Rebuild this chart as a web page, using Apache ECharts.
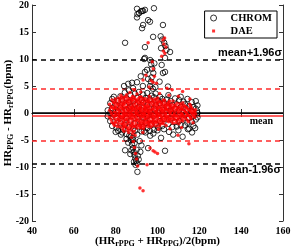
<!DOCTYPE html>
<html><head><meta charset="utf-8">
<script src="https://cdn.jsdelivr.net/npm/echarts@6/dist/echarts.min.js"></script>
<style>html,body{margin:0;padding:0;background:#fff}#c{width:291px;height:252px}</style>
</head><body><div id="c"></div>
<script>
const xTicks = [40, 60, 80, 100, 120, 140, 160];
const yTicks = [-20, -15, -10, -5, 0, 5, 10, 15, 20];
const seriesNames = ['CHROM', 'DAE'];
// [mean, mean+1.96σ, mean-1.96σ]
const chromLimits = [0.1, 9.85, -9.4];
const daeLimits = [-0.5, 4.4, -5.2];
const limitLabels = ['mean', 'mean+1.96σ', 'mean-1.96σ'];

// CHROM: columns [x, y1, y2, ...]
const chromCore = [
 [76.2,0.5,-0.6],[77.4,1.8,-1.5,0.0],[78.3,2.6,-2.4,0.9],[79.1,-0.3,3.0],[80.4,1.5,-2.8,-0.9],
 [81.2,2.2,0.3,-3.3],[82.3,-1.9,3.1,1.0],[83.1,2.5,-0.6,-3.6],[84.4,1.4,-2.2,3.8],[85.2,-1.0,0.6,-3.9,2.7],
 [86.3,2.0,-2.6,0.9,4.2],[87.1,-1.4,3.3,-4.4,1.2],[88.4,0.0,2.2,-2.9,-5.0],[89.2,1.6,-1.9,3.6,-3.3],[90.3,-0.7,2.8,-4.0,0.9],
 [91.1,1.1,-2.5,3.9,-0.2],[92.4,2.4,-1.6,-3.4,0.5],[93.2,-0.9,1.9,3.4,-2.6],[94.3,0.4,-1.8,2.8,-3.6],[95.1,1.5,-2.8,3.7,-0.6],
 [96.4,-1.2,2.5,0.2,-3.3],[97.2,1.7,-2.1,3.2],[98.3,-0.5,2.9,-3.1,0.8],[99.1,1.4,-2.0,3.6],[100.4,0.0,2.3,-2.7],
 [101.2,-1.5,1.8,3.0],[102.3,0.6,-2.4,2.6],[103.1,1.9,-1.1,-3.0],[104.4,-0.3,2.5,1.2],[105.2,1.0,-2.0,3.3],
 [106.3,-1.0,2.2,0.4],[107.1,1.5,-2.6,-0.2],[108.4,2.7,-1.7,0.8],[109.2,-0.8,1.6,-2.5],[110.3,0.5,2.4,-1.5],
 [111.1,-2.2,1.1,3.0],[112.4,0.2,-1.0,2.1],[113.2,1.6,-2.3,-0.4],[114.3,0.7,2.6,-1.8],[115.1,-0.9,1.3,-2.9],
 [116.4,0.3,2.0,-1.6],[117.2,-0.5,1.1,-2.4],[118.3,0.8,-1.2,2.2],[119.1,0.0,-0.8,1.4]
];
const chromHigh = [
 [90.2,19.3],[91.2,18.5],[92.0,18.8],[92.6,18.9],[93.1,18.9],[94.0,19.1],[90.4,18.3],[90.2,17.7],[98.3,19.4],
 [96.4,16.9],[95.5,17.2],[93.1,16.3],[92.6,15.7],[102.6,16.3],[84.5,13.0],[94.0,12.2],[97.9,14.1],
 [101.5,14.2],[102.3,13.6],[103.2,13.0],[103.8,12.4],[101.7,12.0],[104.3,11.7],[106.0,11.3],[94.0,10.2],
 [103.6,10.2],[96.5,9.8],[97.0,9.0],[97.5,8.2],[98.0,7.4],[97.2,6.6],[96.8,5.8],[96.4,5.0],[97.8,4.5],
 [102.0,8.9],[102.6,7.4],[94.0,7.6],[95.0,8.0],[93.6,10.0],[87.8,5.6],[88.3,4.6],[90.2,5.7],[98.5,9.2],
 [103.6,7.6],[84.0,5.0],[86.0,5.4],[93.0,5.0],[99.0,4.8],[105.0,4.9],[101.0,5.8],[92.0,6.8],[95.5,6.3]
];
const chromLow = [
 [86.5,-4.2],[87.2,-5.0],[87.8,-5.8],[88.3,-6.5],[88.6,-7.2],[89.0,-7.8],[89.4,-8.4],[89.8,-8.9],[90.2,-9.3],
 [88.8,-9.0],[89.5,-9.6],[90.4,-10.9],[87.5,-6.9],[86.0,-5.5],[88.0,-4.6],[89.0,-5.6],[90.0,-6.8],[90.6,-7.9],
 [91.0,-8.6],[87.0,-7.6],[84.5,-6.9],[85.2,-4.8],[91.5,-5.2],[92.3,-6.0],[91.8,-7.2],[95.5,-6.5],[101.7,-4.6],
 [103.6,-7.0],[98.0,-3.8],[105.5,-3.5],[110.0,-3.2],[114.5,-3.0],[80.0,-3.5],[82.5,-4.0],[83.5,-3.0],[93.5,-3.4],
 [96.5,-4.2],[100.0,-3.2],[107.5,-4.0],[112.0,-4.4],[116.5,-3.6],[118.0,-2.8]
];

// DAE: columns [x, y1, y2, ...]
const daeCore = [
 [77.1,0.5,-0.8,1.6],[78.2,1.2,-0.3,-1.7,2.4],[79.4,0.2,1.8,-1.1,-2.3,0.9],[80.1,-0.5,1.0,2.2,-1.6,0.1],
 [81.3,1.5,-0.2,-2.0,0.7,2.8,-1.0],[82.2,0.3,-1.4,1.9,-0.6,2.5,-2.6],[83.4,-0.1,1.2,-2.1,0.8,2.0,-1.0,-3.0],
 [84.1,0.6,-0.7,1.7,-1.8,2.9,-2.5,0.0],[85.3,1.0,-0.4,2.3,-1.3,0.2,-2.7,3.4],[86.2,-0.2,1.4,-1.6,2.1,0.5,-2.9,-3.6],
 [87.4,0.9,-0.9,1.8,-2.2,0.0,2.7,-3.2],[88.1,0.4,-1.2,1.1,-2.0,2.4,-0.3,-3.8,3.1],[89.3,-0.6,0.7,1.9,-1.5,2.6,-2.4,0.1,-4.1],
 [90.2,1.3,-0.1,-1.0,2.2,-2.8,0.6,3.5],[91.4,0.2,-1.7,1.6,-0.5,2.9,-2.3,0.9],[92.1,-0.3,1.0,-1.3,2.0,-2.6,0.4,3.0],
 [93.3,0.7,-0.8,1.5,-1.9,2.4,-0.1,-2.9],[94.2,0.1,1.2,-1.1,2.7,-2.1,0.8,-0.4],[95.4,-0.5,0.9,1.8,-1.6,2.3,-2.5,0.3],
 [96.1,1.1,-0.2,-1.4,2.1,0.5,-2.2,3.1],[97.3,0.0,1.5,-0.9,-1.8,2.6,0.7],[98.2,0.6,-0.6,1.3,-2.0,2.0,-1.2],
 [99.4,-0.2,1.0,-1.5,2.4,0.3,-2.4],[100.1,0.8,-0.7,1.7,-1.1,0.0,2.8],[101.3,0.3,-1.3,1.2,-0.4,2.1,-2.1],
 [102.2,-0.1,0.9,-0.9,1.9,-1.8,0.5],[103.4,0.5,-0.5,1.4,-1.5,2.3],[104.1,0.0,1.1,-1.0,0.7,-2.3],
 [105.3,0.4,-0.8,1.6,-1.6,2.0],[106.2,-0.3,0.8,-1.2,1.3,0.2],[107.4,0.6,-0.6,1.0,-1.9,2.2],[108.1,0.1,-1.1,1.5,-0.4],
 [109.3,-0.5,0.7,1.8,-1.4],[110.2,0.3,-0.9,1.1,-2.0],[111.4,0.0,1.4,-0.7,0.8],[112.1,-0.4,0.6,-1.5,1.9],
 [113.3,0.2,-1.0,1.2],[114.2,-0.2,0.9,-1.3],[115.4,0.5,-0.6,1.6],[116.1,0.0,-1.1,1.0],[117.3,0.3,-0.5],[118.2,-0.2,0.6]
];
const daeCore2 = [
 [77.8,0.1,-1.2,1.0],[78.9,-0.6,0.8,2.0,-2.0],[79.8,1.3,-0.4,-1.8,2.6],[80.8,0.6,-1.2,1.7,-2.5],
 [81.8,-0.5,1.1,2.2,-1.5,0.2],[82.8,0.9,-0.9,1.5,-2.0,2.9],[83.8,0.4,-1.5,2.5,-0.5,1.6,-2.6],
 [84.8,-0.2,1.1,-1.2,2.1,-2.2,3.0],[85.8,0.6,-0.9,1.8,-1.9,2.8,-3.2],[86.8,0.2,-1.1,1.0,-2.4,2.5,-0.5],
 [87.8,-0.4,1.3,-1.7,2.2,0.6,-2.7],[88.8,0.9,-0.8,1.6,-2.5,2.9,-3.4],[89.8,0.3,-1.3,1.2,-2.0,2.3,-0.2],
 [90.8,-0.4,0.9,-1.4,1.9,-2.3,2.6],[91.8,0.6,-0.9,1.2,-2.0,2.3,-2.8],[92.8,0.1,-0.6,1.7,-1.6,2.7,-2.3],
 [93.8,-0.3,1.0,-1.4,2.0,-2.5,0.5],[94.8,0.5,-1.0,1.4,-1.7,2.2],[95.8,0.0,1.3,-0.9,-2.0,2.6],
 [96.8,0.4,-0.6,1.9,-1.6,-2.6],[97.8,-0.3,0.9,-1.4,2.2,-2.3],[98.8,0.2,1.6,-0.8,-1.7,2.6],
 [99.8,0.6,-0.5,1.3,-1.8,2.0],[100.8,-0.3,1.0,-1.6,2.2,-2.4],[101.8,0.6,-0.7,1.6,-1.4],
 [102.8,0.2,1.3,-1.2,2.4,-2.0],[103.8,-0.2,0.9,-0.9,1.8],[104.8,0.6,-0.6,1.5,-1.4],[105.8,0.0,1.1,-1.1,2.2],
 [106.8,0.4,-0.9,1.6,-1.6],[107.8,-0.3,1.0,-1.2],[108.8,0.5,-0.6,1.3,-1.8],[109.8,0.0,1.0,-1.1],
 [110.8,0.6,-0.4,1.7,-1.5],[111.8,-0.2,1.0,-1.1],[112.8,0.5,-0.7,1.4],[113.8,0.1,-0.5,1.0],
 [114.8,-0.4,0.6,-1.6],[115.8,0.3,-0.9,1.3],[116.8,-0.2,0.7],[117.8,0.2,-0.8]
];
const daeOut = [
 [95.5,13.0],[102.6,13.5],[103.0,12.8],[103.4,13.9],[104.0,12.2],[102.8,11.5],[103.5,11.0],[102.0,10.5],
 [97.5,9.5],[98.0,8.2],[94.5,7.0],[93.1,6.1],[97.0,6.0],[99.5,5.5],[104.5,4.6],[107.0,4.3],[112.0,4.0],
 [96.0,4.8],[98.5,6.8],[97.9,5.7],[91.6,-13.9],[93.1,-14.4],[95.0,-9.6],[98.8,-7.2],[96.4,-6.5],[97.9,-7.0],
 [100.0,-7.5],[115.0,-5.7],[109.8,-4.1],[89.5,-7.5],[90.0,-8.5],[89.0,-6.4],[88.4,-5.3],[87.6,-4.5],[90.5,-9.8],
 [86.8,3.8],[89.0,4.3],[92.0,3.9],[82.5,3.3],[101.0,3.6],[105.5,3.3],[110.0,3.1],[115.5,2.6],[84.0,-3.4],
 [93.0,-3.6],[100.5,-3.0],[106.0,-2.9],[111.5,-2.7],[117.0,-1.8]
];

function flatCols(list) {
  const out = [];
  list.forEach(c => { for (let i = 1; i < c.length; i++) out.push([c[0], c[i]]); });
  return out;
}
const chromData = flatCols(chromCore).concat(chromHigh, chromLow);
const daeData = flatCols(daeCore).concat(flatCols(daeCore2), daeOut);

const SERIF = 'Liberation Serif, Times New Roman, serif';
const SANS = 'Liberation Sans, Arial, sans-serif';
const AX = '#333';

function limitLines(lim, color, labelsCfg) {
  return {
    silent: true, symbol: 'none', z: 1, animation: false,
    label: { show: false },
    data: [
      { yAxis: lim[0], lineStyle: { color: color, type: 'solid', width: 1.5 }, label: labelsCfg[0] },
      { yAxis: lim[1], lineStyle: { color: color, type: [5, 4], width: 1.5 }, label: labelsCfg[1] },
      { yAxis: lim[2], lineStyle: { color: color, type: [5, 4], width: 1.5 }, label: labelsCfg[2] }
    ]
  };
}
const sansLbl = { fontFamily: SANS, fontWeight: 'bold', fontSize: 11, color: '#000' };

const chart = echarts.init(document.getElementById('c'));
chart.setOption({
  animation: false,
  backgroundColor: '#fff',
  grid: { left: 32, right: 8, top: 5, bottom: 31, outerBoundsMode: 'none', containLabel: false },
  legend: {
    right: 14, top: 11, orient: 'vertical',
    borderColor: '#000', borderWidth: 1, backgroundColor: '#fff',
    padding: [1, 5, 1, 4], itemGap: 1, itemWidth: 10, itemHeight: 6,
    textStyle: { fontFamily: SERIF, fontWeight: 'bold', fontSize: 10.5, color: '#000', lineHeight: 12, padding: [0, 0, 0, 7] },
    data: [
      { name: seriesNames[0], icon: 'circle', itemStyle: { color: 'transparent', borderColor: '#000', borderWidth: 1 } },
      { name: seriesNames[1], icon: 'path://M0,0M10,6M3.5,1.5h3v3h-3z', itemStyle: { color: '#ff0000', borderWidth: 0 } }
    ]
  },
  xAxis: [{
    type: 'value', min: xTicks[0], max: xTicks[xTicks.length - 1], interval: xTicks[1] - xTicks[0],
    splitLine: { show: false },
    axisLine: { lineStyle: { color: AX, width: 1 } },
    axisTick: { inside: true, length: 4, lineStyle: { color: AX } },
    axisLabel: { fontFamily: SERIF, fontWeight: 'bold', fontSize: 10, color: '#000', margin: 5 },
    name: '(HR{s|rPPG} + HR{s|PPG})/2(bpm)', nameLocation: 'middle', nameGap: 13, nameMoveOverlap: false,
    nameTextStyle: { fontFamily: SERIF, fontWeight: 'bold', fontSize: 11, color: '#000', lineHeight: 14,
      rich: { s: { fontFamily: SERIF, fontWeight: 'bold', fontSize: 8, color: '#000', lineHeight: 8, verticalAlign: 'bottom' } } }
  }, {
    type: 'value', position: 'top', min: xTicks[0], max: xTicks[xTicks.length - 1], interval: xTicks[1] - xTicks[0],
    splitLine: { show: false }, axisLabel: { show: false },
    axisLine: { lineStyle: { color: AX, width: 1 } },
    axisTick: { inside: true, length: 4, lineStyle: { color: AX } }
  }],
  yAxis: [{
    type: 'value', min: yTicks[0], max: yTicks[yTicks.length - 1], interval: yTicks[1] - yTicks[0],
    splitLine: { show: false },
    axisLine: { lineStyle: { color: AX, width: 1 } },
    axisTick: { inside: true, length: 4, lineStyle: { color: AX } },
    axisLabel: { fontFamily: SERIF, fontWeight: 'bold', fontSize: 10, color: '#000', margin: 3 },
    name: 'HR{s|PPG} - HR{s|rPPG}(bpm)', nameLocation: 'middle', nameGap: 17, nameMoveOverlap: false,
    nameTextStyle: { fontFamily: SERIF, fontWeight: 'bold', fontSize: 11, color: '#000', lineHeight: 14,
      rich: { s: { fontFamily: SERIF, fontWeight: 'bold', fontSize: 8, color: '#000', lineHeight: 8, verticalAlign: 'bottom' } } }
  }, {
    type: 'value', position: 'right', min: yTicks[0], max: yTicks[yTicks.length - 1], interval: yTicks[1] - yTicks[0],
    splitLine: { show: false }, axisLabel: { show: false },
    axisLine: { lineStyle: { color: AX, width: 1 } },
    axisTick: { inside: true, length: 4, lineStyle: { color: AX } }
  }],
  series: [{
    name: seriesNames[0], type: 'scatter', z: 2, data: chromData,
    symbol: 'circle', symbolSize: 5.5,
    itemStyle: { color: 'transparent', borderColor: '#000', borderWidth: 1 },
    markLine: limitLines(chromLimits, '#000', [
      { show: false },
      Object.assign({ show: true, formatter: limitLabels[1], position: 'insideEndTop', distance: [1, 1] }, sansLbl),
      Object.assign({ show: true, formatter: limitLabels[2], position: 'insideEndBottom', distance: [2, 1] }, sansLbl)
    ])
  }, {
    name: seriesNames[1], type: 'scatter', z: 3, data: daeData,
    symbol: 'circle', symbolSize: 3.5,
    itemStyle: { color: '#ff0000' },
    markLine: limitLines(daeLimits, '#ff2a2a', [
      { show: true, formatter: limitLabels[0], position: 'insideEndBottom', distance: [10, 1], fontFamily: SERIF, fontWeight: 'bold', fontSize: 10, color: '#000' },
      { show: false }, { show: false }
    ])
  }]
});
</script></body></html>
